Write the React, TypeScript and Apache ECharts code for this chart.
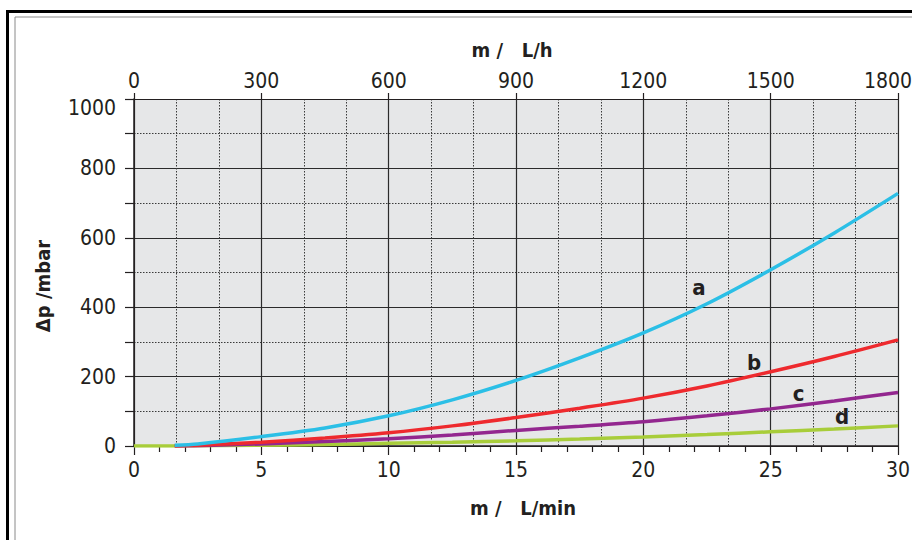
import React, { useEffect, useRef } from "react";
import * as echarts from "echarts";

// Flow in L/min (bottom axis)
const X_ABC = [1.6, 2.5, 5, 7.5, 10, 12.5, 15, 17.5, 20, 22.5, 25, 27.5, 30];
const X_D = [0, 1.6, 2.5, 5, 7.5, 10, 12.5, 15, 17.5, 20, 22.5, 25, 27.5, 30];
// Pressure drop in mbar
const A_VALUES = [2, 6, 27, 52, 87, 133, 189, 254, 326, 410, 508, 614, 728];
const B_VALUES = [0, 2, 11, 23, 38, 58, 82, 109, 138, 173, 214, 258, 306];
const C_VALUES = [0, 1, 6, 13, 21, 32, 45, 57, 70, 87, 107, 130, 154];
const D_VALUES = [0, 0, 1, 2, 4, 8, 11, 15, 20, 26, 33, 41, 49, 58];

const CURVE_NAMES = ["a", "b", "c", "d"];
const CURVE_COLORS = ["#2bbfe6", "#ee2a2e", "#93278f", "#a8cd3a"];
// label anchor positions in data units [L/min, mbar]
const LABEL_COORDS = [
  [22.18, 457],
  [24.35, 240],
  [26.1, 150],
  [27.8, 84],
];

const X_BOTTOM_TICKS = [0, 5, 10, 15, 20, 25, 30];
const X_TOP_TICKS = [0, 300, 600, 900, 1200, 1500, 1800];
const Y_TICKS = [0, 200, 400, 600, 800, 1000];

const FONT = "'Liberation Sans Narrow', 'DejaVu Sans Condensed', 'Roboto', sans-serif";
const TXT = "#231f20";

export default function App() {
  const ref = useRef<HTMLDivElement>(null);
  useEffect(() => {
    if (!ref.current) return;
    const chart = echarts.init(ref.current, null, { renderer: "svg", width: 912, height: 540 });
    const xs = [X_ABC, X_ABC, X_ABC, X_D];
    const vals = [A_VALUES, B_VALUES, C_VALUES, D_VALUES];
    const series: any[] = vals.map((v, i) => ({
      type: "line",
      name: CURVE_NAMES[i],
      xAxisIndex: 0,
      yAxisIndex: 0,
      data: v.map((y, j) => [xs[i][j], y]),
      smooth: 0.3,
      showSymbol: false,
      symbol: "none",
      lineStyle: { color: CURVE_COLORS[i], width: 3.5 },
      z: 10 - i,
      markPoint: {
        symbol: "circle",
        symbolSize: 1,
        itemStyle: { color: "rgba(0,0,0,0)" },
        label: {
          show: true,
          position: "inside",
          formatter: CURVE_NAMES[i],
          fontFamily: FONT,
          fontWeight: "bold",
          fontSize: 22,
          color: TXT,
        },
        data: [{ coord: LABEL_COORDS[i] }],
      },
    }));
    series.reverse();

    const axisLabelBase = {
      fontFamily: FONT,
      fontSize: 21,
      color: TXT,
    };
    const topMax = X_TOP_TICKS[X_TOP_TICKS.length - 1];

    chart.setOption({
      animation: false,
      backgroundColor: "#ffffff",
      grid: {
        left: 134,
        top: 99,
        right: 14,
        bottom: 94,
        outerBoundsMode: "none",
        containLabel: false,
        show: true,
        backgroundColor: "#e6e7e8",
        borderWidth: 0,
      },
      xAxis: [
        {
          type: "value",
          position: "bottom",
          min: X_BOTTOM_TICKS[0],
          max: X_BOTTOM_TICKS[X_BOTTOM_TICKS.length - 1],
          interval: 5,
          axisLine: { show: true, lineStyle: { color: "#231f20", width: 1.5 } },
          axisTick: { show: true, length: 9, lineStyle: { color: "#231f20", width: 1.2 } },
          minorTick: { show: true, splitNumber: 5, length: 6, lineStyle: { color: "#231f20", width: 1.2 } },
          splitLine: { show: false },
          axisLabel: { ...axisLabelBase, margin: 13, formatter: (v: number) => String(v) },
        },
        {
          type: "value",
          position: "top",
          min: X_TOP_TICKS[0],
          max: topMax,
          interval: 300,
          axisLine: { show: true, lineStyle: { color: "#231f20", width: 1.2 } },
          axisTick: { show: true, length: 6, lineStyle: { color: "#231f20", width: 1.2 } },
          splitLine: { show: true, lineStyle: { color: "#2b2b2b", width: 1.2 } },
          minorTick: { show: false, splitNumber: 3 },
          minorSplitLine: { show: true, lineStyle: { color: "#3a3a3a", width: 1, type: [1.5, 1.5] } },
          axisLabel: {
            ...axisLabelBase,
            margin: 8,
            formatter: (v: number) => (v === topMax ? "{r|" + v + "}" : String(v)),
            rich: { r: { ...axisLabelBase, padding: [0, 20, 0, 0] } },
          },
        },
      ],
      yAxis: {
        type: "value",
        min: Y_TICKS[0],
        max: Y_TICKS[Y_TICKS.length - 1],
        interval: 200,
        axisLine: { show: true, lineStyle: { color: "#231f20", width: 1.5 } },
        axisTick: { show: true, length: 9, lineStyle: { color: "#231f20", width: 1.2 } },
        minorTick: { show: true, splitNumber: 2, length: 9, lineStyle: { color: "#231f20", width: 1.2 } },
        splitLine: { show: true, lineStyle: { color: "#2b2b2b", width: 1.2 } },
        minorSplitLine: { show: true, lineStyle: { color: "#3a3a3a", width: 1, type: [1.5, 1.5] } },
        axisLabel: {
          ...axisLabelBase,
          margin: 18,
          formatter: (v: number) => (v === 1000 ? "{top|1000}" : String(v)),
          rich: { top: { ...axisLabelBase, padding: [18, 0, 0, 0] } },
        },
      },
      graphic: [
        {
          type: "rect",
          shape: { x: 7.5, y: 11.5, width: 1200, height: 1200 },
          style: { fill: "none", stroke: "#000", lineWidth: 3 },
          silent: true,
        },
        {
          type: "rect",
          shape: { x: 15, y: 17, width: 1200, height: 1200 },
          style: { fill: "none", stroke: "#8a8a8a", lineWidth: 1 },
          silent: true,
        },
        {
          type: "text",
          x: 512,
          y: 50,
          style: {
            text: "m /   L/h",
            fontFamily: FONT,
            fontWeight: "bold",
            fontSize: 20,
            fill: TXT,
            align: "center",
            verticalAlign: "middle",
          },
        },
        {
          type: "text",
          x: 523,
          y: 508,
          style: {
            text: "m /   L/min",
            fontFamily: FONT,
            fontWeight: "bold",
            fontSize: 20,
            fill: TXT,
            align: "center",
            verticalAlign: "middle",
          },
        },
        {
          type: "text",
          x: 43,
          y: 286,
          rotation: Math.PI / 2,
          style: {
            text: "Δp /mbar",
            fontFamily: FONT,
            fontWeight: "bold",
            fontSize: 20,
            fill: TXT,
            align: "center",
            verticalAlign: "middle",
          },
        },
      ],
      series,
    });
    return () => chart.dispose();
  }, []);
  return (
    <div
      ref={ref}
      style={{ position: "fixed", left: 0, top: 0, width: 912, height: 540 }}
    />
  );
}
